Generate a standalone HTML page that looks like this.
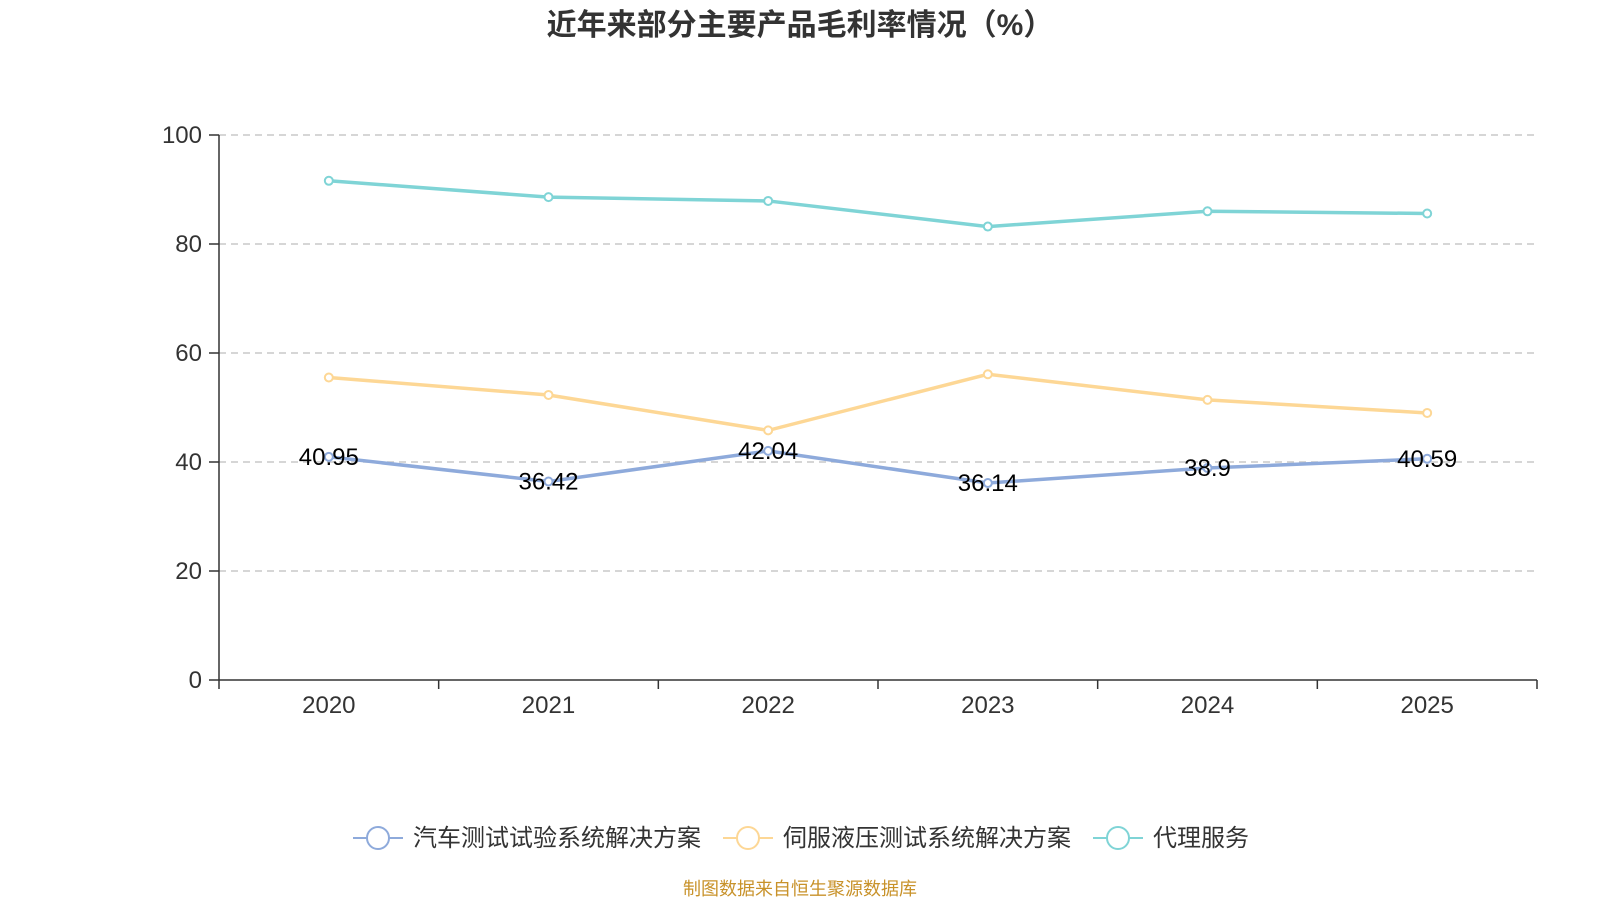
<!DOCTYPE html>
<html><head><meta charset="utf-8"><style>
body{margin:0;background:#fff;width:1600px;height:900px;overflow:hidden;font-family:"Liberation Sans","Noto Sans CJK SC",sans-serif;}
svg text{font-family:"Liberation Sans","Noto Sans CJK SC",sans-serif;}
</style></head><body>
<svg id="chart" width="1600" height="900">
<text x="800" y="35" text-anchor="middle" font-size="30" font-weight="bold" fill="#333">近年来部分主要产品毛利率情况（%）</text>
<g id="grid"></g><g id="axes"></g><g id="series"></g><g id="legend"></g>
<text x="800" y="895" text-anchor="middle" font-size="18" fill="#c8922a">制图数据来自恒生聚源数据库</text>
</svg>
<script>
const categories=["2020","2021","2022","2023","2024","2025"];
const seriesNames=["汽车测试试验系统解决方案","伺服液压测试系统解决方案","代理服务"];
const autoValues=[40.95,36.42,42.04,36.14,38.9,40.59];
const servoValues=[55.5,52.3,45.8,56.1,51.4,49.0];
const agentValues=[91.6,88.6,87.9,83.2,86.0,85.6];
const yTicks=[0,20,40,60,80,100];
const colors=["#8eaadb","#fdd795","#7fd4d6"];
const NS="http://www.w3.org/2000/svg";
const L=219,R=1537,T=135,B=680;
const bw=(R-L)/categories.length;
const x=i=>L+bw*(i+0.5);
const y=v=>B-(v/100)*(B-T);
function mk(tag,attrs,parent,text){const e=document.createElementNS(NS,tag);for(const k in attrs)e.setAttribute(k,attrs[k]);if(text!==undefined)e.textContent=text;parent.appendChild(e);return e;}
const grid=document.getElementById('grid'),axes=document.getElementById('axes'),ser=document.getElementById('series'),leg=document.getElementById('legend');
yTicks.forEach(t=>{
 if(t>0){const g=mk('line',{x1:L,x2:R,y1:y(t),y2:y(t),stroke:'#c8c8c8','stroke-width':1.5,'stroke-dasharray':'7,5'},grid);
 
 }
 mk('line',{x1:L-10,x2:L,y1:y(t),y2:y(t),stroke:'#333','stroke-width':1.5},axes);
 const lb=mk('text',{x:L-17,y:y(t)+8,'text-anchor':'end','font-size':24,fill:'#333'},axes,t);
 
 
});
mk('line',{x1:L,x2:L,y1:T,y2:B,stroke:'#333','stroke-width':1.5},axes);
mk('line',{x1:L,x2:R,y1:B,y2:B,stroke:'#333','stroke-width':1.5},axes);
for(let i=0;i<=categories.length;i++)mk('line',{x1:L+bw*i,x2:L+bw*i,y1:B,y2:B+9,stroke:'#333','stroke-width':1.5},axes);
categories.forEach((c,i)=>{const t=mk('text',{x:x(i),y:B+33,'text-anchor':'middle','font-size':24,fill:'#333'},axes,c);
 
 });
const all=[autoValues,servoValues,agentValues];
[2,1,0].forEach(s=>{
 const vals=all[s];
 const p=mk('polyline',{points:vals.map((v,i)=>x(i)+','+y(v)).join(' '),fill:'none',stroke:colors[s],'stroke-width':3.5},ser);
 
 
 vals.forEach((v,i)=>{const c=mk('circle',{cx:x(i),cy:y(v),r:4,fill:'#fff',stroke:colors[s],'stroke-width':2},ser);
  
  });
});
autoValues.forEach((v,i)=>{const t=mk('text',{x:x(i),y:y(v)+8,'text-anchor':'middle','font-size':24,fill:'#000'},ser,v);
 
 });
const lx=[353,723,1093];
seriesNames.forEach((n,s)=>{
 const g=mk('g',{},leg);
 
 
 mk('line',{x1:lx[s],x2:lx[s]+50,y1:838,y2:838,stroke:colors[s],'stroke-width':2},g);
 mk('circle',{cx:lx[s]+25,cy:838,r:11,fill:'#fff',stroke:colors[s],'stroke-width':2},g);
 mk('text',{x:lx[s]+60,y:846,'font-size':24,fill:'#333'},g,n);
});
</script>
</body></html>
